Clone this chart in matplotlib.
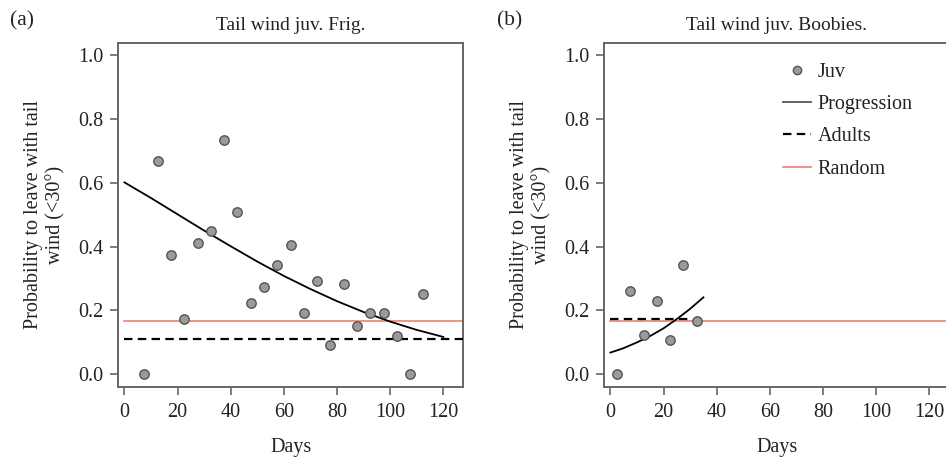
import matplotlib
matplotlib.use("Agg")
import matplotlib.pyplot as plt
from matplotlib.lines import Line2D

plt.rcParams['font.family'] = ['Liberation Serif', 'DejaVu Serif']

# --- Panel (a): frigatebirds ---
frig_days = [7.5, 12.5, 17.5, 22.5, 27.5, 32.5, 37.5, 42.5, 47.5, 52.5, 57.5,
             62.5, 67.5, 72.5, 77.5, 82.5, 87.5, 92.5, 97.5, 102.5, 107.5, 112.5]
frig_prob = [0.0, 0.667, 0.375, 0.172, 0.412, 0.45, 0.733, 0.507, 0.222, 0.273, 0.343,
             0.405, 0.193, 0.292, 0.092, 0.282, 0.152, 0.193, 0.193, 0.12, 0.0, 0.25]
frig_curve_days = [0, 10, 20, 30, 40, 50, 60, 70, 80, 90, 100, 110, 120]
frig_curve_prob = [0.601, 0.552, 0.501, 0.450, 0.401, 0.353, 0.308, 0.267, 0.229,
                   0.195, 0.165, 0.139, 0.117]
frig_adults = 0.11
frig_adults_span = [0, 130]

# --- Panel (b): boobies ---
boob_days = [2.5, 7.5, 12.5, 17.5, 22.5, 27.5, 32.5]
boob_prob = [0.0, 0.261, 0.122, 0.228, 0.108, 0.342, 0.166]
boob_curve_days = [0, 5, 10, 15, 20, 25, 30, 35]
boob_curve_prob = [0.068, 0.082, 0.100, 0.120, 0.144, 0.173, 0.205, 0.241]
boob_adults = 0.173
boob_adults_span = [0, 30]

random_level = 0.167
random_span = [0, 130]

xticks = [0, 20, 40, 60, 80, 100, 120]
yticks = [0.0, 0.2, 0.4, 0.6, 0.8, 1.0]
ytick_labels = ['0.0', '0.2', '0.4', '0.6', '0.8', '1.0']

titles = ['Tail wind juv. Frig.', 'Tail wind juv. Boobies.']
panel_labels = ['(a)', '(b)']
ylabel = 'Probability to leave with tail\nwind (<30°)'

RED = '#f08a78'
PT_FACE = '#9a9a9a'
PT_EDGE = '#555555'
SPINE = '#666666'
TXT = '#222222'
FS = 14.5
DASH = (0, (3.8, 2.4))

fig = plt.figure(figsize=(9.46, 4.61), dpi=100)
ax1 = fig.add_axes([0.1251, 0.1612, 0.3643, 0.7462])
ax2 = fig.add_axes([0.6388, 0.1612, 0.3643, 0.7462])

panels = [
    (ax1, frig_days, frig_prob, frig_curve_days, frig_curve_prob, frig_adults, frig_adults_span),
    (ax2, boob_days, boob_prob, boob_curve_days, boob_curve_prob, boob_adults, boob_adults_span),
]

for i, (ax, dx, dy, cx, cy, ad, adspan) in enumerate(panels):
    ax.plot(random_span, [random_level, random_level], color=RED, lw=1.3, zorder=2)
    ax.plot(adspan, [ad, ad], color='black', lw=1.6, ls=DASH, zorder=3)
    ax.plot(cx, cy, color='black', lw=1.3, zorder=4)
    ax.scatter(dx, dy, s=46, facecolor=PT_FACE, edgecolor=PT_EDGE, linewidths=1.0, zorder=5)

    ax.set_xlim(-2.3, 127.4)
    ax.set_ylim(-0.0388, 1.0385)
    ax.set_xticks(xticks)
    ax.set_yticks(yticks)
    ax.set_yticklabels(ytick_labels)
    ax.tick_params(axis='both', direction='out', length=6, width=1.2, color=SPINE,
                   labelsize=FS, pad=5, labelcolor=TXT)
    ax.tick_params(axis='x', pad=6)
    for sp in ax.spines.values():
        sp.set_color(SPINE)
        sp.set_linewidth(1.4)
    ax.set_title(titles[i], fontsize=14, pad=9, color=TXT)
    ax.set_xlabel('Days', fontsize=FS, labelpad=11, color=TXT)
    ax.set_ylabel(ylabel, fontsize=FS, labelpad=9, color=TXT, linespacing=1.2)

fig.text(0.0106, 0.955, panel_labels[0], fontsize=FS + 1, color=TXT, va='center', ha='left')
fig.text(0.525, 0.955, panel_labels[1], fontsize=FS + 1, color=TXT, va='center', ha='left')

handles = [
    Line2D([], [], ls='none', marker='o', markersize=6, markerfacecolor=PT_FACE,
           markeredgecolor=PT_EDGE, markeredgewidth=1.0),
    Line2D([], [], color='#555555', lw=1.3),
    Line2D([], [], color='black', lw=1.6, ls=DASH),
    Line2D([], [], color=RED, lw=1.3),
]
labels = ['Juv', 'Progression', 'Adults', 'Random']
ax2.legend(handles, labels, loc='upper left', bbox_to_anchor=(0.465, 0.995), frameon=False,
           fontsize=FS, handlelength=1.4, handletextpad=0.35, labelspacing=0.66,
           labelcolor=TXT, borderpad=0.4)

fig.savefig('out.png', dpi=100)
